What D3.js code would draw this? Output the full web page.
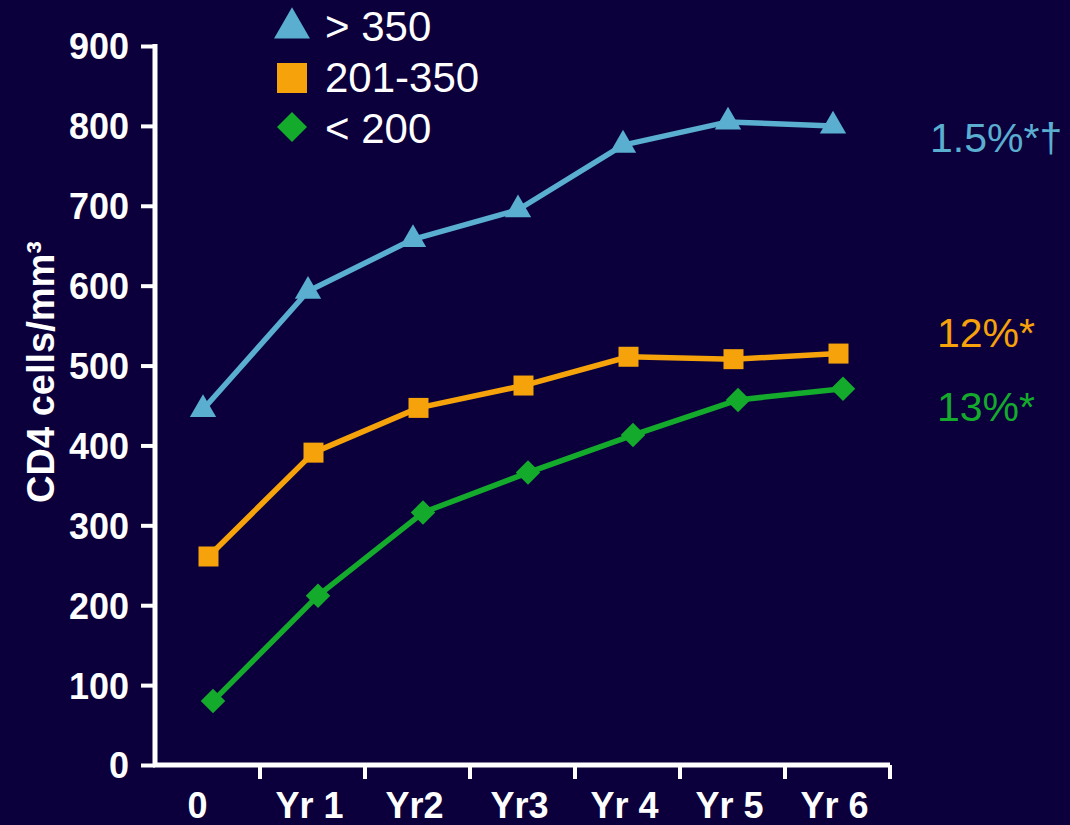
<!DOCTYPE html>
<html>
<head>
<meta charset="utf-8">
<script src="https://cdn.jsdelivr.net/npm/d3@7"></script>
<style>
  html, body { margin: 0; padding: 0; background: #0b003c; }
  svg { display: block; }
</style>
</head>
<body>
<div id="chart"></div>
<script>
// categories and tick labels
const categories = ["0", "Yr 1", "Yr2", "Yr3", "Yr 4", "Yr 5", "Yr 6"];
const yTicks = [0, 100, 200, 300, 400, 500, 600, 700, 800, 900];

// CD4 counts per baseline group
const above350 = [445, 593, 658, 695, 776, 805, 800];
const mid201to350 = [261, 391, 447, 475, 511, 508, 515];
const below200 = [80, 212, 316, 366, 413, 457, 471];

const seriesNames = ["> 350", "201-350", "< 200"];
const annotations = ["1.5%*\u2020", "12%*", "13%*"];

const W = 1070, H = 825;
const bg = "#0b003c";
const colors = ["#5aaed0", "#f6a20a", "#14aa2c"];
const shapes = [d3.symbolTriangle, d3.symbolSquare, d3.symbolSquare];

const svg = d3.select("#chart").append("svg").attr("width", W).attr("height", H);
svg.append("rect").attr("width", W).attr("height", H).attr("fill", bg);

const x = d3.scaleBand().domain(categories).range([155, 890]).padding(0);
const y = d3.scaleLinear().domain([0, 900]).range([765, 46]);

// y axis
const gy = svg.append("g").attr("transform", "translate(155,0)")
    .call(d3.axisLeft(y).tickValues(yTicks).tickSize(14).tickSizeOuter(0).tickPadding(12));
gy.select(".domain").attr("stroke", "#fff").attr("stroke-width", 5)
    .attr("d", `M0,${y(0) + 2}V${y(900) - 2}`);
gy.selectAll(".tick line").attr("stroke", "#fff").attr("stroke-width", 4);
gy.selectAll(".tick text")
    .attr("fill", "#fff")
    .attr("font-family", "Liberation Sans, Arial, sans-serif")
    .attr("font-weight", "bold")
    .attr("font-size", 36)
    .attr("dy", "0.36em");

// x axis: labels in band centres, ticks at band edges
const gx = svg.append("g").attr("transform", `translate(0,${y(0)})`)
    .call(d3.axisBottom(x).tickSize(0).tickSizeOuter(0).tickPadding(31));
gx.select(".domain").attr("stroke", "#fff").attr("stroke-width", 5)
    .attr("d", `M${x.range()[0] - 2},0H${x.range()[1]}`);
gx.selectAll(".tick text")
    .attr("fill", "#fff")
    .attr("font-family", "Liberation Sans, Arial, sans-serif")
    .attr("font-weight", "bold")
    .attr("font-size", 36)
    .attr("dx", d => d === "0" ? -10 : -3)
    .attr("dy", "0.62em");
gx.selectAll(".edge").data(categories).enter().append("line")
    .attr("class", "edge")
    .attr("x1", d => x(d) + x.bandwidth())
    .attr("x2", d => x(d) + x.bandwidth())
    .attr("y1", 0).attr("y2", 14)
    .attr("stroke", "#fff").attr("stroke-width", 4);

// y axis title
svg.append("text")
    .attr("transform", "translate(54,372) rotate(-90)")
    .attr("text-anchor", "middle")
    .attr("fill", "#fff")
    .attr("font-family", "Liberation Sans, Arial, sans-serif")
    .attr("font-weight", "bold")
    .attr("font-size", 38)
    .text("CD4 cells/mm\u00b3");

// series
const seriesData = [above350, mid201to350, below200];
const offsets = [-4.5, 1, 5.5];
const sizes = [300, 400, 300];
const rotations = [0, 0, 45];

seriesData.forEach((vals, s) => {
  const pts = vals.map((v, i) => [x(categories[i]) + x.bandwidth() / 2 + offsets[s], y(v)]);
  svg.append("path")
      .attr("d", d3.line()(pts))
      .attr("fill", "none")
      .attr("stroke", colors[s])
      .attr("stroke-width", 5.5)
      .attr("stroke-linejoin", "round");
  svg.selectAll(".m" + s).data(pts).enter().append("path")
      .attr("class", "m" + s)
      .attr("transform", d => `translate(${d[0]},${d[1]}) rotate(${rotations[s]})`)
      .attr("d", d3.symbol().type(shapes[s]).size(sizes[s]))
      .attr("fill", colors[s]);
});

// legend
const legendY = [28, 78, 127];
const legendText = [41, 92, 143];
const legendSizes = [560, 900, 450];
seriesNames.forEach((name, s) => {
  svg.append("path")
      .attr("transform", `translate(292,${legendY[s]}) rotate(${rotations[s]})`)
      .attr("d", d3.symbol().type(shapes[s]).size(legendSizes[s]))
      .attr("fill", colors[s]);
  svg.append("text")
      .attr("x", 325).attr("y", legendText[s])
      .attr("fill", "#fff")
      .attr("font-family", "Liberation Sans, Arial, sans-serif")
      .attr("font-size", 42)
      .text(name);
});

// end-of-line annotations
const annX = [930, 937, 937];
const annY = [152, 347, 421];
annotations.forEach((t, s) => {
  svg.append("text")
      .attr("x", annX[s]).attr("y", annY[s])
      .attr("fill", colors[s])
      .attr("font-family", "Liberation Sans, Arial, sans-serif")
      .attr("font-size", 41)
      .text(t);
});
</script>
</body>
</html>
